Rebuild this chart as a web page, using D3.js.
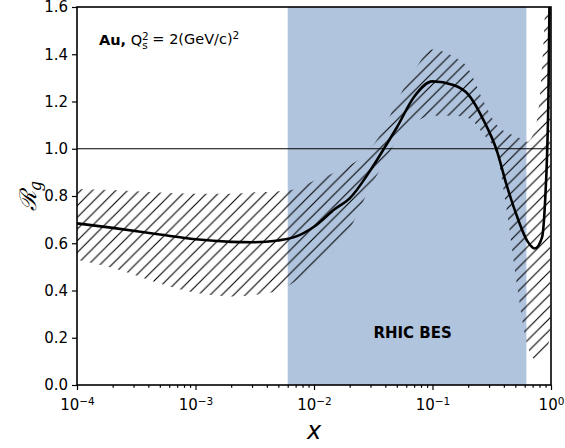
<!DOCTYPE html>
<html>
<meta charset="utf-8">
<title>Gluon nuclear modification</title>
<style>
	body {
		margin: 0;
		background: #fff;
	}

	text {
		font-family: "DejaVu Sans", sans-serif;
		fill: #000;
	}

	.tick text {
		font-size: 15px;
	}
</style>

<body>
	<div id="chart"></div>

	<script src="https://cdn.jsdelivr.net/npm/d3@7/dist/d3.min.js"></script>

	<script>
		// values
		var xs = [1e-4, 2e-4, 5e-4, 1e-3, 2e-3, 3e-3, 5e-3, 7e-3, 1e-2, 1.5e-2, 2e-2, 3e-2, 4e-2, 5e-2, 7e-2,
			0.1, 0.15, 0.2, 0.27, 0.35, 0.42, 0.52, 0.63, 0.73, 0.84, 0.89, 0.93, 0.95, 0.97, 0.985];
		var ratio = [0.684, 0.665, 0.637, 0.617, 0.606, 0.604, 0.612, 0.628, 0.67, 0.745, 0.79, 0.91, 1.01, 1.09, 1.22,
			1.285, 1.27, 1.23, 1.12, 0.99, 0.85, 0.71, 0.61, 0.578, 0.625, 0.77, 1.0, 1.2, 1.6, 2.2];
		var ratioLow = [0.53, 0.495, 0.43, 0.39, 0.375, 0.38, 0.40, 0.44, 0.51, 0.57, 0.66, 0.84, 0.95, 1.04, 1.11,
			1.14, 1.14, 1.13, 1.06, 0.97, 0.75, 0.41, 0.17, 0.11, 0.11, 0.13, 0.15, 0.17, 0.19, 0.21];
		var ratioHigh = [0.83, 0.825, 0.815, 0.81, 0.81, 0.815, 0.82, 0.83, 0.865, 0.9, 0.93, 1.0, 1.1, 1.2, 1.33,
			1.42, 1.39, 1.34, 1.2, 1.1, 1.07, 1.05, 1.03, 1.08, 1.35, 1.6, 2.0, 2.2, 2.5, 2.8];
		var besRange = [0.006, 0.62];
		var xTicks = [1e-4, 1e-3, 1e-2, 1e-1, 1];
		var xTickExp = ["\u22124", "\u22123", "\u22122", "\u22121", "0"];
		var yTicks = [0, 0.2, 0.4, 0.6, 0.8, 1.0, 1.2, 1.4, 1.6];

		var margin = { top: 7, right: 14, bottom: 63, left: 77 },
			width = 565 - margin.left - margin.right,
			height = 448 - margin.top - margin.bottom;

		var svg = d3.select("#chart").append("svg")
			.attr("width", 565)
			.attr("height", 448);

		var g = svg.append("g")
			.attr("transform", "translate(" + margin.left + "," + margin.top + ")");

		var x = d3.scaleLog().domain([1e-4, 1]).range([0, width]);
		var y = d3.scaleLinear().domain([0, 1.6]).range([height, 0]);

		var defs = svg.append("defs");
		defs.append("clipPath").attr("id", "plot")
			.append("rect").attr("width", width).attr("height", height);

		var s = 11.7;
		defs.append("pattern")
			.attr("id", "hatch")
			.attr("patternUnits", "userSpaceOnUse")
			.attr("width", s).attr("height", s)
			.append("path")
			.attr("d", "M0," + s + "L" + s + ",0M" + (-s / 2) + "," + (s / 2) + "L" + (s / 2) + "," + (-s / 2) +
				"M" + (s / 2) + "," + (s * 1.5) + "L" + (s * 1.5) + "," + (s / 2))
			.attr("stroke", "#000")
			.attr("stroke-width", 1.1);

		var data = xs.map(function (d, i) {
			return { x: d, r: ratio[i], lo: ratioLow[i], hi: ratioHigh[i] };
		});

		var plot = g.append("g").attr("clip-path", "url(#plot)");

		// RHIC BES span
		plot.append("rect")
			.attr("x", x(besRange[0]))
			.attr("width", x(besRange[1]) - x(besRange[0]))
			.attr("y", 0)
			.attr("height", height)
			.attr("fill", "#b0c4de");

		var area = d3.area()
			.x(function (d) { return x(d.x); })
			.y0(function (d) { return y(d.lo); })
			.y1(function (d) { return y(d.hi); })
			.curve(d3.curveMonotoneX);

		plot.append("path")
			.datum(data)
			.attr("d", area)
			.attr("fill", "url(#hatch)");

		var line = d3.line()
			.x(function (d) { return x(d.x); })
			.y(function (d) { return y(d.r); })
			.curve(d3.curveMonotoneX);

		plot.append("path")
			.datum(data)
			.attr("d", line)
			.attr("fill", "none")
			.attr("stroke", "#000")
			.attr("stroke-width", 2.6);

		plot.append("line")
			.attr("x1", 0).attr("x2", width)
			.attr("y1", y(1)).attr("y2", y(1))
			.attr("stroke", "#000")
			.attr("stroke-width", 1);

		// axes
		var minor = [];
		for (var e = -4; e < 0; e++) {
			for (var m = 2; m < 10; m++) minor.push(m * Math.pow(10, e));
		}

		g.append("g")
			.attr("transform", "translate(0," + height + ")")
			.call(d3.axisBottom(x).tickValues(minor).tickSize(2.8).tickFormat(""));

		var xAxis = g.append("g")
			.attr("transform", "translate(0," + height + ")")
			.call(d3.axisBottom(x).tickValues(xTicks).tickSize(5).tickPadding(4).tickFormat(""));

		xAxis.selectAll(".tick text").each(function (d, i) {
			var t = d3.select(this).attr("dy", "1.05em").attr("text-anchor", "middle");
			t.append("tspan").text("10");
			t.append("tspan").attr("dy", "-0.45em").attr("font-size", "10.5px").text(xTickExp[i]);
		});

		g.append("g")
			.call(d3.axisLeft(y).tickValues(yTicks).tickSize(5).tickPadding(4).tickFormat(d3.format(".1f")));

		g.selectAll(".domain").remove();
		g.selectAll(".tick line").attr("stroke-width", 1.2);

		g.append("rect")
			.attr("width", width).attr("height", height)
			.attr("fill", "none")
			.attr("stroke", "#000")
			.attr("stroke-width", 1.6);

		// labels
		g.append("text")
			.attr("x", width / 2)
			.attr("y", height + 54)
			.attr("text-anchor", "middle")
			.attr("font-size", "24px")
			.attr("font-style", "italic")
			.text("x");

		var yl = svg.append("text")
			.attr("transform", "translate(36," + (margin.top + y(0.8)) + ") rotate(-90)")
			.attr("text-anchor", "middle")
			.attr("font-size", "23px")
			.style("font-family", "'DejaVu Serif', serif")
			.attr("font-style", "italic");
		yl.append("tspan").text("\u211B");
		yl.append("tspan").attr("dy", "0.3em").attr("font-size", "16px").text("g");

		var note = g.append("text")
			.attr("x", 22)
			.attr("y", 38)
			.attr("font-size", "14.5px");
		note.append("tspan").attr("font-weight", "bold").text("Au,");
		note.append("tspan").text(" Q");
		note.append("tspan").attr("dy", "-0.45em").attr("font-size", "10.5px").text("2");
		note.append("tspan").attr("dx", "-6.5px").attr("dy", "0.8em").attr("font-size", "10.5px").text("s");
		note.append("tspan").attr("dy", "-0.35em").text(" = 2(GeV/c)");
		note.append("tspan").attr("dy", "-0.45em").attr("font-size", "10.5px").text("2");

		g.append("text")
			.attr("x", x(0.068))
			.attr("y", y(0.2))
			.attr("text-anchor", "middle")
			.attr("font-size", "15px")
			.attr("font-weight", "bold")
			.text("RHIC BES");
	</script>
</body>

</html>
